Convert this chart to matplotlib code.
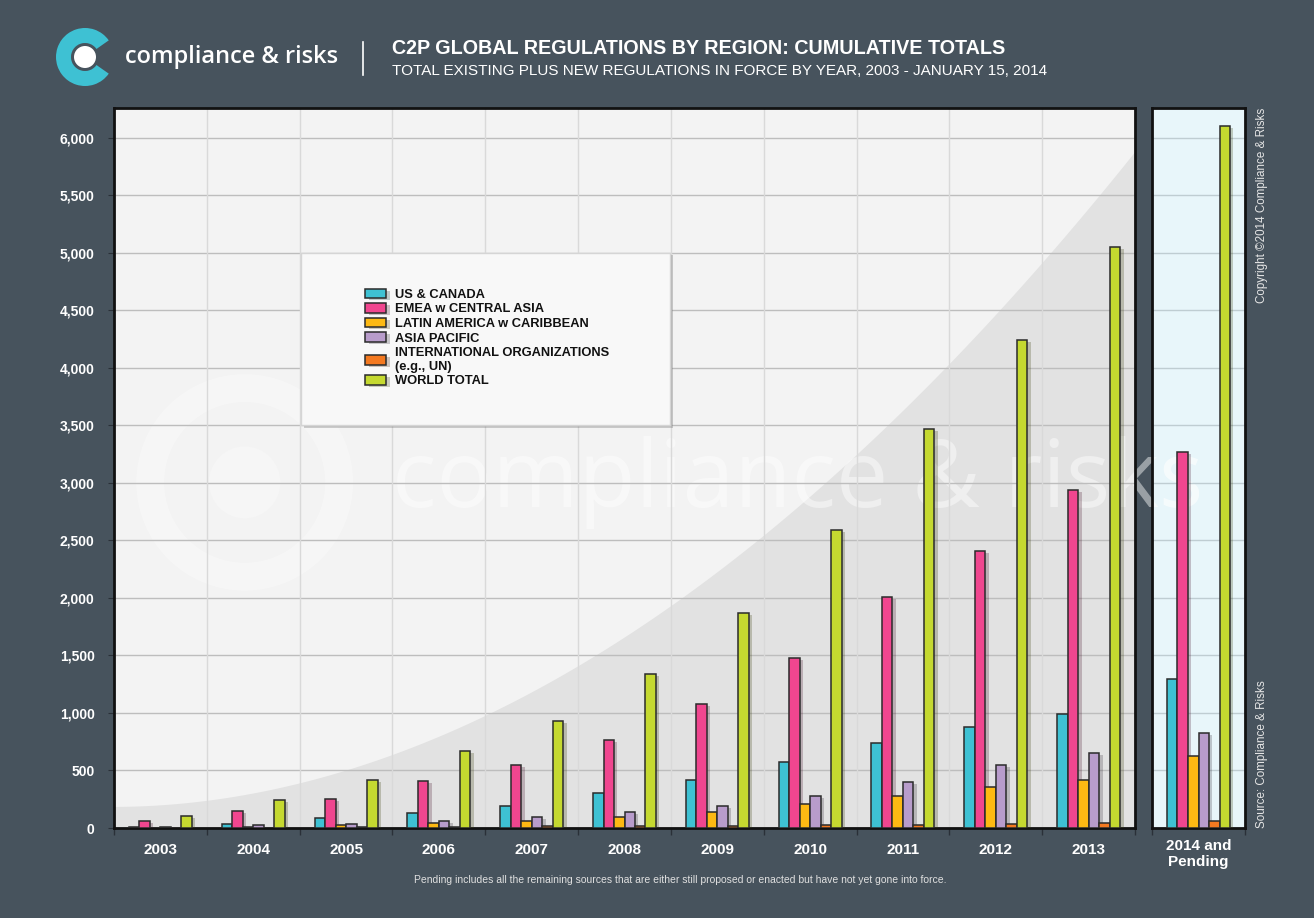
#!/usr/bin/env python3

import numpy as np
import matplotlib
matplotlib.use("Agg")
import matplotlib.pyplot as plt
import matplotlib.patheffects as pe
from matplotlib.patches import Rectangle, Wedge, Circle, Ellipse
from matplotlib.ticker import FuncFormatter, MultipleLocator

plt.rcParams['font.family'] = ['Liberation Sans', 'DejaVu Sans']

# data
years = ['2003', '2004', '2005', '2006', '2007', '2008', '2009', '2010', '2011', '2012', '2013']
pending_label = '2014 and\nPending'

us_canada = [12, 32, 84, 131, 189, 302, 415, 571, 737, 879, 995]
emea = [58, 151, 250, 406, 548, 763, 1077, 1478, 2009, 2409, 2939]
latam = [3, 12, 24, 44, 64, 96, 143, 212, 282, 360, 421]
asia_pac = [12, 26, 35, 64, 99, 137, 191, 276, 398, 548, 656]
intl_org = [2, 3, 8, 12, 15, 17, 20, 29, 29, 38, 41]
world = [102, 241, 421, 673, 931, 1339, 1870, 2591, 3470, 4244, 5052]

pending = [1299, 3272, 629, 828, 57, 6105]

series_names = ['US & CANADA', 'EMEA w CENTRAL ASIA', 'LATIN AMERICA w CARIBBEAN',
                'ASIA PACIFIC', 'INTERNATIONAL ORGANIZATIONS\n(e.g., UN)', 'WORLD TOTAL']
colors = ['#3ec1d3', '#f0468f', '#fdb913', '#b89ccb', '#f47920', '#c5d930']

BG = '#47535d'
EDGE = '#2b2b2b'
YMAX = 6260
BAR_W = 0.113

fig = plt.figure(figsize=(13.14, 9.18), dpi=100, facecolor=BG)

# --- header -------------------------------------------------------------
logo = fig.add_axes([0, 0, 1, 1], zorder=5)
logo.set_xlim(0, 1314)
logo.set_ylim(918, 0)
logo.axis('off')
logo.patch.set_alpha(0)
logo.add_patch(Wedge((85, 57), 29, 35, 325, width=15, facecolor='#3ec1d3', edgecolor='none'))
logo.add_patch(Circle((85, 57), 11, facecolor='white', edgecolor='none'))
logo.plot([363, 363], [42, 75], color='white', lw=1.2)

fig.text(125 / 1314, 1 - 57 / 918, 'compliance & risks', color='white', fontsize=17,
         va='center', ha='left', fontweight='semibold', family=['Open Sans', 'DejaVu Sans'])
fig.text(392 / 1314, 1 - 49 / 918, 'C2P GLOBAL REGULATIONS BY REGION: CUMULATIVE TOTALS',
         color='white', fontsize=14.2, fontweight='bold', va='center', ha='left')
fig.text(392 / 1314, 1 - 71 / 918, 'TOTAL EXISTING PLUS NEW REGULATIONS IN FORCE BY YEAR, 2003 - JANUARY 15, 2014',
         color='white', fontsize=11, va='center', ha='left')

# --- main panel -----------------------------------------------------------
ax = fig.add_axes([114 / 1314, 1 - 828 / 918, (1135 - 114) / 1314, 720 / 918])
ax.set_facecolor('#f3f3f3')
ax.set_xlim(-0.5, len(years) - 0.5)
ax.set_ylim(0, YMAX)

# decorative curved band in the background
t = np.linspace(0, 1, 200)
curve = 0.03 + 0.91 * t ** 1.95
ax.fill_between(t, 0, curve, transform=ax.transAxes, color='#e2e2e2', zorder=0, lw=0)

# watermark
wm = ax.text(0.67, 0.48, 'compliance & risks', transform=ax.transAxes, fontsize=67,
             color='white', alpha=0.45, ha='center', va='center', zorder=0.5,
             family=['Open Sans', 'DejaVu Sans'])
wm.set_clip_box(ax.bbox)
ax.add_patch(Ellipse((0.128, 0.48), 0.185, 0.262, transform=ax.transAxes, facecolor='none',
                     edgecolor='white', lw=20, alpha=0.3, zorder=0.5))
ax.add_patch(Ellipse((0.128, 0.48), 0.07, 0.1, transform=ax.transAxes, facecolor='white',
                     edgecolor='none', alpha=0.25, zorder=0.5))

for b in np.arange(0.5, len(years) - 0.5, 1):
    ax.axvline(b, color='#d9d9d9', lw=1, zorder=0.6)
ax.yaxis.set_major_locator(MultipleLocator(500))
ax.grid(axis='y', color='#bdbdbd', lw=1, zorder=0.6)
ax.set_axisbelow(True)

x = np.arange(len(years))
all_series = [us_canada, emea, latam, asia_pac, intl_org, world]
shadow = [pe.SimplePatchShadow(offset=(2.5, -1.5), alpha=0.25), pe.Normal()]
for i, (vals, c, name) in enumerate(zip(all_series, colors, series_names)):
    ax.bar(x + (i - 2.5) * BAR_W, vals, BAR_W, color=c, edgecolor=EDGE, lw=1.1,
           label=name, zorder=3, path_effects=shadow)

ax.set_xticks(x)
ax.set_xticklabels(years)
ax.set_xticks(np.arange(-0.5, len(years), 1), minor=True)
ax.tick_params(axis='x', which='major', length=0, pad=11, labelsize=11, labelcolor='white')
ax.tick_params(axis='x', which='minor', length=5, color='#2a3038', width=1)
ax.tick_params(axis='y', length=4, color='#2a3038', labelsize=10, labelcolor='white', pad=10)
ax.yaxis.set_major_formatter(FuncFormatter(lambda v, p: f'{int(v):,}'))
for lab in ax.get_xticklabels() + ax.get_yticklabels():
    lab.set_fontweight('bold')
for s in ax.spines.values():
    s.set_color('#111111')
    s.set_linewidth(2)

# legend box
ax.add_patch(Rectangle((0.183, 0.56), 0.362, 0.239, transform=ax.transAxes,
                       facecolor='#f8f8f8', edgecolor='#d5d5d5', lw=1, zorder=4,
                       path_effects=[pe.SimplePatchShadow(offset=(2, -2), alpha=0.25), pe.Normal()]))
leg = ax.legend(loc='upper left', bbox_to_anchor=(0.24, 0.758), frameon=False,
                fontsize=9.3, handlelength=1.6, handleheight=0.75, handletextpad=0.7,
                labelspacing=0.18, borderpad=0)
leg.set_zorder(5)
for txt in leg.get_texts():
    txt.set_fontweight('bold')
    txt.set_color('#111111')

# --- pending panel --------------------------------------------------------
ax2 = fig.add_axes([1152 / 1314, 1 - 828 / 918, (1245 - 1152) / 1314, 720 / 918])
ax2.set_facecolor('#e8f6fa')
ax2.set_xlim(-0.5, 0.5)
ax2.set_ylim(0, YMAX)
ax2.yaxis.set_major_locator(MultipleLocator(500))
ax2.grid(axis='y', color='#bfcdd2', lw=1, zorder=0.6)
ax2.set_axisbelow(True)
# watermark continues into the pending panel
wm2 = ax2.text(0.67, 0.48, 'compliance & risks', transform=ax.transAxes, fontsize=67,
               color='white', alpha=0.6, ha='center', va='center', zorder=0.5,
               family=['Open Sans', 'DejaVu Sans'])
wm2.set_clip_on(True)
wm2.set_clip_box(ax2.bbox)
for i, (v, c) in enumerate(zip(pending, colors)):
    ax2.bar((i - 2.5) * BAR_W, v, BAR_W, color=c, edgecolor=EDGE, lw=1.1, zorder=3,
            path_effects=shadow)
ax2.set_xticks([0])
ax2.set_xticklabels([pending_label], fontweight='bold')
ax2.set_xticks([-0.5, 0.5], minor=True)
ax2.tick_params(axis='x', which='major', length=0, pad=8, labelsize=11, labelcolor='white')
ax2.tick_params(axis='x', which='minor', length=5, color='#2a3038', width=1)
ax2.tick_params(axis='y', left=False, labelleft=False)
for s in ax2.spines.values():
    s.set_color('#111111')
    s.set_linewidth(2)

# --- side notes and footnote ------------------------------------------------
fig.text(1262 / 1314, 1 - 108 / 918, 'Copyright \u00a92014 Compliance & Risks', rotation=90,
         color='#e6e6e6', fontsize=8.4, ha='center', va='top')
fig.text(1262 / 1314, 1 - 828 / 918, 'Source: Compliance & Risks', rotation=90,
         color='#e6e6e6', fontsize=8.4, ha='center', va='bottom')
fig.text(680 / 1314, 1 - 880 / 918,
         'Pending includes all the remaining sources that are either still proposed or enacted but have not yet gone into force.',
         color='#e0e0e0', fontsize=7.5, ha='center', va='center')

fig.savefig('out.png', dpi=100, facecolor=BG)
